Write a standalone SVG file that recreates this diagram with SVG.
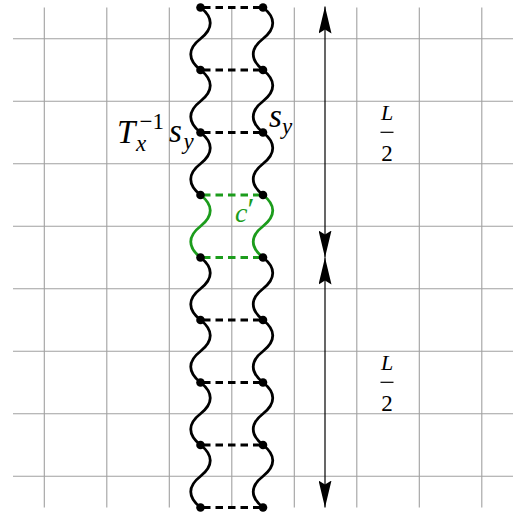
<svg xmlns="http://www.w3.org/2000/svg" width="521" height="517" viewBox="0 0 521 517">
<style>
.grid line{stroke:#a0a0a0;stroke-width:1.1}
.wave{fill:none;stroke:#000;stroke-width:2.8;stroke-linecap:round}
.wave.g{stroke:#1c9c1c}
.dash{stroke:#000;stroke-width:2.8;stroke-dasharray:7.5 5;stroke-dashoffset:10}
.dash.g{stroke:#1c9c1c}
.dot{fill:#000}
.arr{stroke:#000;stroke-width:1.2;fill:none}
text{font-family:'Liberation Serif','Times New Roman',serif;fill:#000}
.m{font-style:italic}
.r{font-style:normal}
.gt{fill:#1c9c1c}
</style>
<defs>
<marker id="stealth" markerUnits="userSpaceOnUse" viewBox="0 0 27 13" refX="27" refY="6.5" markerWidth="27" markerHeight="13" orient="auto-start-reverse">
<path d="M0,0 L27,6.5 L0,13 L4,6.5 Z" fill="#000"/>
</marker>
</defs>
<g class="grid" id="grid">
<line x1="44.3" y1="7.5" x2="44.3" y2="507.5"/>
<line x1="106.8" y1="7.5" x2="106.8" y2="507.5"/>
<line x1="169.3" y1="7.5" x2="169.3" y2="507.5"/>
<line x1="231.8" y1="7.5" x2="231.8" y2="507.5"/>
<line x1="294.3" y1="7.5" x2="294.3" y2="507.5"/>
<line x1="356.8" y1="7.5" x2="356.8" y2="507.5"/>
<line x1="419.3" y1="7.5" x2="419.3" y2="507.5"/>
<line x1="481.8" y1="7.5" x2="481.8" y2="507.5"/>
<line x1="13" y1="38.7" x2="513" y2="38.7"/>
<line x1="13" y1="101.2" x2="513" y2="101.2"/>
<line x1="13" y1="163.7" x2="513" y2="163.7"/>
<line x1="13" y1="226.2" x2="513" y2="226.2"/>
<line x1="13" y1="288.7" x2="513" y2="288.7"/>
<line x1="13" y1="351.2" x2="513" y2="351.2"/>
<line x1="13" y1="413.7" x2="513" y2="413.7"/>
<line x1="13" y1="476.2" x2="513" y2="476.2"/>
</g>
<g id="connectors">
<path class="wave" d="M200.5,7.5 c13,10 13,21 0,31.25 c-13,10 -13,21 0,31.25 c13,10 13,21 0,31.25 c-13,10 -13,21 0,31.25 c13,10 13,21 0,31.25 c-13,10 -13,21 0,31.25"/>
<path class="wave g" d="M200.5,195 c13,10 13,21 0,31.25 c-13,10 -13,21 0,31.25"/>
<path class="wave" d="M200.5,257.5 c13,10 13,21 0,31.25 c-13,10 -13,21 0,31.25 c13,10 13,21 0,31.25 c-13,10 -13,21 0,31.25 c13,10 13,21 0,31.25 c-13,10 -13,21 0,31.25 c13,10 13,21 0,31.25 c-13,10 -13,21 0,31.25"/>
<path class="wave" d="M263,7.5 c13,10 13,21 0,31.25 c-13,10 -13,21 0,31.25 c13,10 13,21 0,31.25 c-13,10 -13,21 0,31.25 c13,10 13,21 0,31.25 c-13,10 -13,21 0,31.25"/>
<path class="wave g" d="M263,195 c13,10 13,21 0,31.25 c-13,10 -13,21 0,31.25"/>
<path class="wave" d="M263,257.5 c13,10 13,21 0,31.25 c-13,10 -13,21 0,31.25 c13,10 13,21 0,31.25 c-13,10 -13,21 0,31.25 c13,10 13,21 0,31.25 c-13,10 -13,21 0,31.25 c13,10 13,21 0,31.25 c-13,10 -13,21 0,31.25"/>
<line class="dash" x1="200.5" y1="7.5" x2="263" y2="7.5"/>
<line class="dash" x1="200.5" y1="70" x2="263" y2="70"/>
<line class="dash" x1="200.5" y1="132.5" x2="263" y2="132.5"/>
<line class="dash g" x1="200.5" y1="195" x2="263" y2="195"/>
<line class="dash g" x1="200.5" y1="257.5" x2="263" y2="257.5"/>
<line class="dash" x1="200.5" y1="320" x2="263" y2="320"/>
<line class="dash" x1="200.5" y1="382.5" x2="263" y2="382.5"/>
<line class="dash" x1="200.5" y1="445" x2="263" y2="445"/>
<line class="dash" x1="200.5" y1="507.5" x2="263" y2="507.5"/>
<line class="arr" x1="325" y1="6.5" x2="325" y2="257.5" marker-start="url(#stealth)" marker-end="url(#stealth)"/>
<line class="arr" x1="325" y1="257.5" x2="325" y2="507.5" marker-start="url(#stealth)" marker-end="url(#stealth)"/>
</g>
<g id="nodes">
<g id="l0"><circle class="dot" cx="200.5" cy="7.5" r="4.3"/></g>
<g id="l1"><circle class="dot" cx="200.5" cy="70" r="4.3"/></g>
<g id="l2"><circle class="dot" cx="200.5" cy="132.5" r="4.3"/></g>
<g id="l3"><circle class="dot" cx="200.5" cy="195" r="4.3"/></g>
<g id="l4"><circle class="dot" cx="200.5" cy="257.5" r="4.3"/></g>
<g id="l5"><circle class="dot" cx="200.5" cy="320" r="4.3"/></g>
<g id="l6"><circle class="dot" cx="200.5" cy="382.5" r="4.3"/></g>
<g id="l7"><circle class="dot" cx="200.5" cy="445" r="4.3"/></g>
<g id="l8"><circle class="dot" cx="200.5" cy="507.5" r="4.3"/></g>
<g id="r0"><circle class="dot" cx="263" cy="7.5" r="4.3"/></g>
<g id="r1"><circle class="dot" cx="263" cy="70" r="4.3"/></g>
<g id="r2"><circle class="dot" cx="263" cy="132.5" r="4.3"/></g>
<g id="r3"><circle class="dot" cx="263" cy="195" r="4.3"/></g>
<g id="r4"><circle class="dot" cx="263" cy="257.5" r="4.3"/></g>
<g id="r5"><circle class="dot" cx="263" cy="320" r="4.3"/></g>
<g id="r6"><circle class="dot" cx="263" cy="382.5" r="4.3"/></g>
<g id="r7"><circle class="dot" cx="263" cy="445" r="4.3"/></g>
<g id="r8"><circle class="dot" cx="263" cy="507.5" r="4.3"/></g>
</g>
<g id="labels">
<g id="label-left">
<text class="m" x="117" y="143" font-size="33">T</text>
<text class="m" x="136" y="151" font-size="23">x</text>
<text class="r" x="139.5" y="129" font-size="23">−1</text>
<text class="m" x="169" y="142" font-size="33">s</text>
<text class="m" x="183.5" y="149" font-size="23">y</text>
</g>
<g id="label-right">
<text class="m" x="269" y="127" font-size="33">s</text>
<text class="m" x="282" y="134" font-size="23">y</text>
</g>
<g id="label-c">
<text class="m gt" x="235" y="222" font-size="28">c</text>
<text class="r gt" x="247.5" y="220" font-size="32">′</text>
</g>
<g id="label-half1">
<text class="m" x="387" y="119.5" font-size="22" text-anchor="middle">L</text>
<line x1="380.5" y1="132.3" x2="393.5" y2="132.3" stroke="#000" stroke-width="1.2"/>
<text class="r" x="387" y="160.7" font-size="23" text-anchor="middle">2</text>
</g>
<g id="label-half2">
<text class="m" x="387" y="369.5" font-size="22" text-anchor="middle">L</text>
<line x1="380.5" y1="382.3" x2="393.5" y2="382.3" stroke="#000" stroke-width="1.2"/>
<text class="r" x="387" y="410.7" font-size="23" text-anchor="middle">2</text>
</g>
</g>
</svg>
